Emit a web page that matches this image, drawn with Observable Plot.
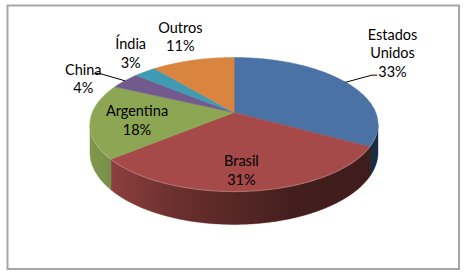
<!DOCTYPE html>
<html><head><meta charset="utf-8">
<script src="https://cdn.jsdelivr.net/npm/d3@7"></script>
<script src="https://cdn.jsdelivr.net/npm/@observablehq/plot@0.6"></script>
<style>html,body{margin:0;padding:0;background:#fff}</style>
</head><body><div id="chart"></div>
<script>
// ---- data ----
const categories = ["Estados Unidos", "Brasil", "Argentina", "China", "Índia", "Outros"];
const shares = [33, 31, 18, 4, 3, 11];
const colors = ["#4a72a5", "#a54a48", "#8ca653", "#725a8f", "#3f9bb2", "#d9843f"];
// ---- label layout (radius factor, angular nudge in degrees, leader line) ----
const labelRadius = [1.74, 0.76, 0.68, 1.31, 1.41, 1.56];
const labelTurn = [-9, 2, -1.8, -6.1, 6.7, 1.9];
const hasLeader = [true, false, false, true, false, false];

// ---- 3D perspective geometry of the pie ----
const W = 465, H = 274;
const X0 = 233.5, Y0 = 112, A = 141.7, B = 64.9, K = 0.179, DEPTH = 27;
function proj(r, deg, drop = 0) {
  const t = deg * Math.PI / 180;
  const u = r * Math.sin(t), v = r * Math.cos(t), w = 1 + K * v;
  return [X0 + A * u / w, Y0 - (B * v - drop) / w];
}
const total = d3.sum(shares);
let acc = 0;
const slices = categories.map((c, i) => {
  const a0 = acc / total * 360; acc += shares[i];
  const a1 = acc / total * 360;
  return {cat: c, i, a0, a1, mid: (a0 + a1) / 2, pct: Math.round(shares[i] / total * 100)};
});
function arcPts(a, b, r = 1, drop = 0) {
  const n = Math.max(2, Math.ceil(Math.abs(b - a) / 1));
  return d3.range(n + 1).map(j => proj(r, a + (b - a) * j / n, drop));
}
// front visible rim range
const frontA = 180 - Math.asin(K) * 180 / Math.PI * -1 - 180 + 90 + Math.asin(K) * 180 / Math.PI * 0; // placeholder
const f0 = 90 + Math.asin(K) * 180 / Math.PI, f1 = 270 - Math.asin(K) * 180 / Math.PI;

const topPts = [], sidePts = [], bandPts = [], rimPts = [];
for (const s of slices) {
  [[X0, Y0], ...arcPts(s.a0, s.a1)].forEach(([x, y]) => topPts.push({cat: s.cat, x, y}));
  const a = Math.max(s.a0, f0), b = Math.min(s.a1, f1);
  if (b > a) {
    [...arcPts(a, b), ...arcPts(a, b, 1, DEPTH).reverse()].forEach(([x, y]) => sidePts.push({cat: s.cat, x, y}));
  }
}
[...arcPts(f0, f1), ...arcPts(f0, f1, 1, DEPTH).reverse()].forEach(([x, y]) => bandPts.push({x, y}));
arcPts(f0 + 8, f1 - 8).forEach(([x, y]) => rimPts.push({x, y}));

const labels = slices.map(s => {
  const [x, y] = proj(labelRadius[s.i], s.mid + labelTurn[s.i]);
  const name = s.cat.replace(" ", "\n");
  return {x, y, text: `${name}\n${s.pct}%`};
});
const leaders = [];
slices.forEach(s => {
  if (!hasLeader[s.i]) return;
  const p0 = proj(1, s.mid), p1 = proj(1.26, s.mid);
  const dir = Math.sin(s.mid * Math.PI / 180) > 0 ? 1 : -1;
  const p2 = [p1[0] + dir * 5, p1[1]];
  [p0, p1, p2].forEach(([x, y]) => leaders.push({cat: s.cat, x, y}));
});

const defs = () => {
  const d = d3.create("svg:defs");
  const g = d.append("linearGradient").attr("id", "sideShade").attr("x1", 0).attr("x2", 1).attr("y1", 0).attr("y2", 0);
  [[0, 0.08], [0.3, 0.36], [0.72, 0.6], [1, 0.62]].forEach(([o, op]) =>
    g.append("stop").attr("offset", o).attr("stop-color", "#000").attr("stop-opacity", op));
  return d.node();
};

const chart = Plot.plot({
  width: W, height: H,
  margin: 0,
  x: {domain: [0, W], range: [0, W], axis: null},
  y: {domain: [0, H], range: [0, H], axis: null},
  color: {domain: categories, range: colors},
  style: {background: "#fff"},
  marks: [
    defs,
    Plot.frame({stroke: "#a6a6a6", strokeWidth: 2, insetLeft: 7, insetTop: 5, insetRight: 6.5, insetBottom: 5.5}),
    Plot.line(sidePts, {x: "x", y: "y", z: "cat", fill: "cat", stroke: "cat", strokeWidth: 0.5, curve: "linear-closed"}),
    Plot.line(bandPts, {x: "x", y: "y", fill: "url(#sideShade)", stroke: "none", curve: "linear-closed"}),
    Plot.line(topPts, {x: "x", y: "y", z: "cat", fill: "cat", stroke: "cat", strokeWidth: 0.5, curve: "linear-closed"}),
    Plot.line(rimPts, {x: "x", y: "y", stroke: "#fff", strokeOpacity: 0.18, strokeWidth: 1.2}),
    Plot.line(leaders, {x: "x", y: "y", z: "cat", stroke: "#000", strokeWidth: 1}),
    Plot.text(labels, {x: "x", y: "y", text: "text", fontSize: 14.5, lineHeight: 1.27, fontFamily: "Lato, sans-serif", fill: "#000"})
  ]
});
document.getElementById("chart").append(chart);
</script>
</body></html>
